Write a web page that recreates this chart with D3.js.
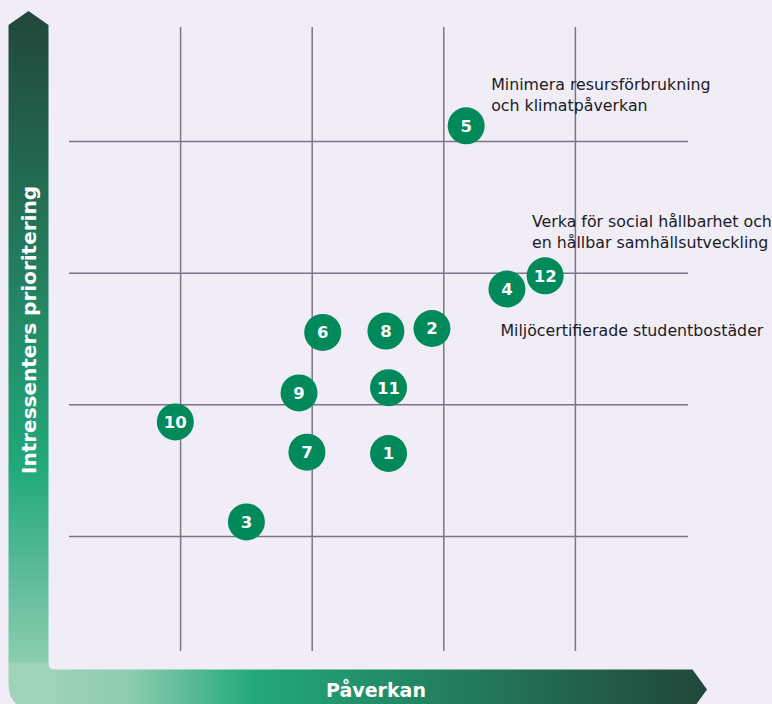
<!DOCTYPE html>
<html>
<head>
<meta charset="utf-8">
<script src="https://cdn.jsdelivr.net/npm/d3@7"></script>
<style>
	html, body { margin: 0; padding: 0; background: #f0edf7; }
	svg { display: block; font-family: "DejaVu Sans", "Noto Sans", sans-serif; }
</style>
</head>
<body>
<svg></svg>
<script>
var svgWidth = 772;
var svgHeight = 704;

// data: id, paverkan (x), prioritering (y)
var ids = ["1", "2", "3", "4", "5", "6", "7", "8", "9", "10", "11", "12"];
var paverkan = [2.58, 2.91, 1.50, 3.48, 3.17, 2.08, 1.96, 2.56, 1.90, 0.96, 2.58, 3.77];
var prioritering = [1.63, 2.58, 1.11, 2.88, 4.12, 2.55, 1.64, 2.56, 2.09, 1.87, 2.13, 2.98];

var gridValues = [1, 2, 3, 4];

var annotations = [
	{ lines: ["Minimera resursförbrukning", "och klimatpåverkan"], x: 3.36, y: 4.39 },
	{ lines: ["Verka för social hållbarhet och", "en hållbar samhällsutveckling"], x: 3.67, y: 3.35 },
	{ lines: ["Miljöcertifierade studentbostäder"], x: 3.43, y: 2.52 }
];

var xAxisLabel = "Påverkan";
var yAxisLabel = "Intressenters prioritering";

var x = d3.scaleLinear().domain([0, 5]).range([49, 707]);
var y = d3.scaleLinear().domain([0, 5]).range([668, 10]);

var svg =
	d3.select("svg")
	.attr("width", svgWidth)
	.attr("height", svgHeight);

var defs = svg.append("defs");

var vGrad = defs.append("linearGradient")
	.attr("id", "vgrad")
	.attr("gradientUnits", "userSpaceOnUse")
	.attr("x1", 0).attr("x2", 0)
	.attr("y1", 11).attr("y2", 704);
vGrad.append("stop").attr("offset", "0%").attr("stop-color", "#22473a");
vGrad.append("stop").attr("offset", "66%").attr("stop-color", "#22a97a");
vGrad.append("stop").attr("offset", "100%").attr("stop-color", "#a2d4bb");

var hGrad = defs.append("linearGradient")
	.attr("id", "hgrad")
	.attr("gradientUnits", "userSpaceOnUse")
	.attr("x1", 9).attr("x2", 707)
	.attr("y1", 0).attr("y2", 0);
hGrad.append("stop").attr("offset", "0%").attr("stop-color", "#a2d4bb");
hGrad.append("stop").attr("offset", "17%").attr("stop-color", "#8fcdb1");
hGrad.append("stop").attr("offset", "35%").attr("stop-color", "#22a97a");
hGrad.append("stop").attr("offset", "100%").attr("stop-color", "#22473a");

// grid
svg.append("g")
	.selectAll("line")
	.data(gridValues)
	.join("line")
	.attr("x1", d => x(d))
	.attr("x2", d => x(d))
	.attr("y1", 27)
	.attr("y2", 651)
	.attr("stroke", "#7b7487")
	.attr("stroke-width", 1.5);

svg.append("g")
	.selectAll("line")
	.data(gridValues)
	.join("line")
	.attr("x1", 69)
	.attr("x2", 688)
	.attr("y1", d => y(d))
	.attr("y2", d => y(d))
	.attr("stroke", "#7b7487")
	.attr("stroke-width", 1.5);

// axis arrows
var barL = 8.5, barR = 48.5, barT = 669.5, barB = 709.5;

svg.append("path")
	.attr("d", "M" + barL + ",25 L28.5,11 L" + barR + ",25 L" + barR + "," + (barT - 6) +
		" L" + barL + "," + (barT - 6) + " Z")
	.attr("fill", "url(#vgrad)");

svg.append("path")
	.attr("d", "M" + (barR + 6) + "," + barT + " L692.5," + barT + " L707," + (barT + barB) / 2 +
		" L692.5," + barB + " L" + (barR + 6) + "," + barB + " Z")
	.attr("fill", "url(#hgrad)");

// corner piece
svg.append("path")
	.attr("d", "M" + barL + "," + (barT - 7) + " L" + barR + "," + (barT - 7) +
		" L" + barR + "," + (barT - 6) + " Q" + barR + "," + barT + " " + (barR + 6) + "," + barT +
		" L" + (barR + 7) + "," + barT + " L" + (barR + 7) + "," + barB +
		" L" + (barL + 26) + "," + barB + " Q" + barL + "," + barB + " " + barL + "," + (barB - 26) + " Z")
	.attr("fill", "#a0d3b9");

svg.append("text")
	.attr("x", 376)
	.attr("y", 697)
	.attr("text-anchor", "middle")
	.attr("fill", "#ffffff")
	.attr("font-weight", "bold")
	.attr("font-size", 19)
	.text(xAxisLabel);

svg.append("text")
	.attr("transform", "translate(36,330) rotate(-90)")
	.attr("text-anchor", "middle")
	.attr("fill", "#ffffff")
	.attr("font-weight", "bold")
	.attr("font-size", 20)
	.text(yAxisLabel);

// annotations
var ann = svg.append("g")
	.selectAll("text")
	.data(annotations)
	.join("text")
	.attr("x", d => x(d.x))
	.attr("y", d => y(d.y))
	.attr("fill", "#1b1b1f")
	.attr("font-size", 15.8);

ann.selectAll("tspan")
	.data(d => d.lines.map((l, i) => ({ text: l, i: i, x: d.x })))
	.join("tspan")
	.attr("x", d => x(d.x))
	.attr("dy", d => d.i == 0 ? 0 : 21)
	.text(d => d.text);

// points
var points = svg.append("g")
	.selectAll("g")
	.data(ids)
	.join("g")
	.attr("transform", (d, i) => "translate(" + x(paverkan[i]) + "," + y(prioritering[i]) + ")");

points.append("circle")
	.attr("r", 18.5)
	.attr("fill", "#00895a");

points.append("text")
	.attr("text-anchor", "middle")
	.attr("dy", "0.36em")
	.attr("fill", "#ffffff")
	.attr("font-weight", "bold")
	.attr("font-size", 16.5)
	.text(d => d);
</script>
</body>
</html>
